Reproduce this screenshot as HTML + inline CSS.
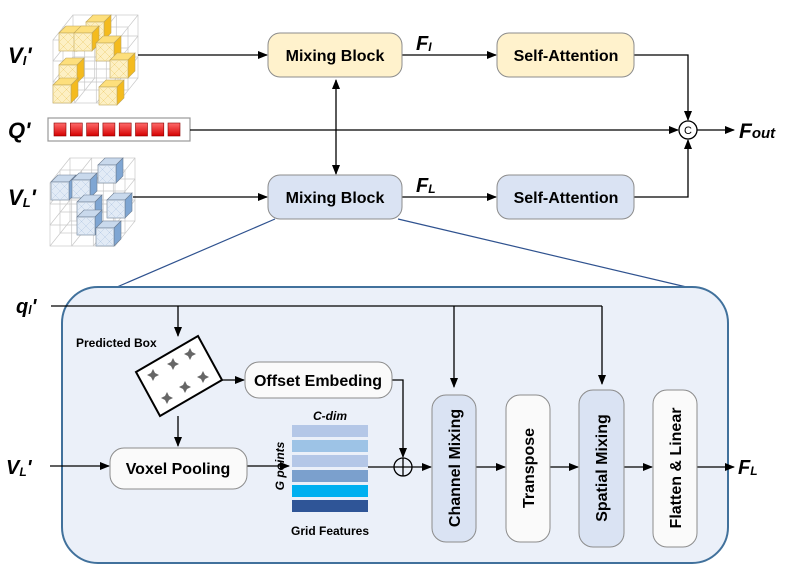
<!DOCTYPE html>
<html><head><meta charset="utf-8"><style>
html,body{margin:0;padding:0;background:#fff;}
svg{display:block;font-family:"Liberation Sans",sans-serif;}
</style></head><body>
<svg width="788" height="576" viewBox="0 0 788 576" xmlns="http://www.w3.org/2000/svg">
<defs>
<marker id="a" markerWidth="10" markerHeight="8" refX="9" refY="4" orient="auto" markerUnits="userSpaceOnUse"><path d="M0,0 L10,4 L0,8 z" fill="#000"/></marker>
<marker id="as" markerWidth="10" markerHeight="8" refX="1" refY="4" orient="auto" markerUnits="userSpaceOnUse"><path d="M10,0 L0,4 L10,8 z" fill="#000"/></marker>
<linearGradient id="rq" x1="0" y1="0" x2="0" y2="1"><stop offset="0" stop-color="#ff6b6b"/><stop offset="1" stop-color="#d40000"/></linearGradient>
<g id="yc"><path d="M0,7 l7,-7 h18 l-7,7 z" fill="#fddf7c" stroke="#bfa55a" stroke-width="0.6"/><path d="M18,7 l7,-7 v18 l-7,7 z" fill="#f4bb1e" stroke="#bfa55a" stroke-width="0.6"/><rect x="0" y="7" width="18" height="18" fill="#fdf0c4" stroke="#bfa55a" stroke-width="0.6"/><path d="M0,7 l18,18 M18,7 l-18,18 M9,7 l9,9 M0,16 l9,9 M9,7 l-9,9 M18,16 l-9,9" stroke="#f0d27a" stroke-width="0.5"/></g>
<g id="bc"><path d="M0,7 l7,-7 h18 l-7,7 z" fill="#c9d9ec" stroke="#6c7d92" stroke-width="0.6"/><path d="M18,7 l7,-7 v18 l-7,7 z" fill="#7fa6d3" stroke="#6c7d92" stroke-width="0.6"/><rect x="0" y="7" width="18" height="18" fill="#e2ebf6" stroke="#6c7d92" stroke-width="0.6"/><path d="M0,7 l18,18 M18,7 l-18,18 M9,7 l9,9 M0,16 l9,9 M9,7 l-9,9 M18,16 l-9,9" stroke="#b9cde6" stroke-width="0.5"/></g>
<g id="grid" stroke="#c8c8c8" stroke-width="0.7" fill="none">
<rect x="0" y="25" width="65" height="63"/><rect x="20" y="0" width="65" height="63"/>
<rect x="10" y="12" width="65" height="63"/>
<path d="M21.7,25 v63 M43.3,25 v63 M0,46 h65 M0,67 h65"/>
<path d="M41.7,0 v63 M63.3,0 v63 M20,21 h65 M20,42 h65"/>
<path d="M31.7,12 v63 M53.3,12 v63 M10,33 h65 M10,54 h65"/>
<path d="M0,25 l20,-25 M65,25 l20,-25 M65,88 l20,-25 M0,88 l20,-25 M21.7,25 l20,-25 M43.3,25 l20,-25 M65,46 l20,-25 M65,67 l20,-25 M0,46 l20,-25 M0,67 l20,-25 M21.7,88 l20,-25 M43.3,88 l20,-25"/>
</g>
</defs>

<g transform="translate(53,15)"><use href="#grid"/></g>
<use href="#yc" x="86" y="15"/>
<use href="#yc" x="59" y="26"/><use href="#yc" x="74" y="26"/>
<use href="#yc" x="96" y="36"/>
<use href="#yc" x="110" y="53"/>
<use href="#yc" x="59" y="58"/>
<use href="#yc" x="53" y="78"/>
<use href="#yc" x="99" y="80"/>
<g transform="translate(50,158)"><use href="#grid"/></g>
<use href="#bc" x="98" y="158"/>
<use href="#bc" x="51" y="175"/><use href="#bc" x="72" y="173"/>
<use href="#bc" x="77" y="195"/><use href="#bc" x="107" y="193"/>
<use href="#bc" x="77" y="210"/><use href="#bc" x="96" y="221"/>

<g font-weight="bold" font-style="italic" font-size="22">
<text x="8" y="63">V<tspan font-size="13" dy="2">I</tspan><tspan dy="-2">'</tspan></text>
<text x="8" y="138">Q'</text>
<text x="8" y="205">V<tspan font-size="13" dy="2">L</tspan><tspan dy="-2">'</tspan></text>
</g>

<rect x="48" y="118" width="142" height="23" fill="#fff" stroke="#999" stroke-width="1.2"/>
<g fill="url(#rq)" stroke="#8a0000" stroke-width="0.6">
<rect x="54" y="123" width="12" height="13"/><rect x="70.3" y="123" width="12" height="13"/><rect x="86.6" y="123" width="12" height="13"/><rect x="102.9" y="123" width="12" height="13"/><rect x="119.2" y="123" width="12" height="13"/><rect x="135.5" y="123" width="12" height="13"/><rect x="151.8" y="123" width="12" height="13"/><rect x="168" y="123" width="12" height="13"/>
</g>

<g stroke="#000" stroke-width="1.3" fill="none">
<path d="M138,55 H267" marker-end="url(#a)"/>
<path d="M133,197 H267" marker-end="url(#a)"/>
<path d="M402,55 H496" marker-end="url(#a)"/>
<path d="M402,197 H496" marker-end="url(#a)"/>
<path d="M336,80 V174" marker-end="url(#a)" marker-start="url(#as)"/>
<path d="M634,55 H688 V120" marker-end="url(#a)"/>
<path d="M634,197 H688 V140" marker-end="url(#a)"/>
<path d="M190,130 H678" marker-end="url(#a)"/>
<path d="M697,130 H734" marker-end="url(#a)"/>
</g>
<circle cx="688" cy="130" r="9" fill="#fff" stroke="#000" stroke-width="1.3"/>
<text x="688" y="134" font-size="11" text-anchor="middle">C</text>
<text x="739" y="138" font-size="21" font-weight="bold" font-style="italic">F<tspan font-size="15">out</tspan></text>
<text x="416" y="50" font-size="20" font-weight="bold" font-style="italic">F<tspan font-size="12" dy="1">I</tspan></text>
<text x="416" y="192" font-size="20" font-weight="bold" font-style="italic">F<tspan font-size="12" dy="1">L</tspan></text>

<path d="M275,219 L110,290 M398,219 L695,289" stroke="#2f528f" stroke-width="1.2"/>

<g stroke="#8c8c8c" stroke-width="1">
<rect x="268" y="33" width="134" height="44" rx="12" fill="#fff2cc"/>
<rect x="497" y="33" width="137" height="44" rx="12" fill="#fff2cc"/>
<rect x="268" y="175" width="134" height="44" rx="12" fill="#dae3f3"/>
<rect x="497" y="175" width="137" height="44" rx="12" fill="#dae3f3"/>
</g>
<g font-size="16" font-weight="bold" text-anchor="middle">
<text x="335" y="61">Mixing Block</text><text x="566" y="61">Self-Attention</text>
<text x="335" y="203">Mixing Block</text><text x="566" y="203">Self-Attention</text>
</g>

<rect x="62" y="287" width="666" height="276" rx="36" fill="#ebf0f9" stroke="#41719c" stroke-width="2"/>

<text x="16" y="313" font-size="20" font-weight="bold" font-style="italic">q<tspan font-size="12" dy="1">l</tspan><tspan dy="-1">'</tspan></text>
<text x="6" y="474" font-size="20" font-weight="bold" font-style="italic">V<tspan font-size="12" dy="2">L</tspan><tspan dy="-2">'</tspan></text>

<g stroke="#000" stroke-width="1.3" fill="none">
<path d="M51,306 H602"/>
<path d="M178,306 V336" marker-end="url(#a)"/>
<path d="M454,306 V387" marker-end="url(#a)"/>
<path d="M602,306 V384" marker-end="url(#a)"/>
<path d="M222,380 H244" marker-end="url(#a)"/>
<path d="M392,380 H403 V457" marker-end="url(#a)"/>
<path d="M178,416 V446" marker-end="url(#a)"/>
<path d="M50,466 H109" marker-end="url(#a)"/>
<path d="M247,466 H289" marker-end="url(#a)"/>
<path d="M368,467 H394"/>
<path d="M412,467 H431" marker-end="url(#a)"/>
<path d="M476,467 H505" marker-end="url(#a)"/>
<path d="M550,467 H578" marker-end="url(#a)"/>
<path d="M624,467 H652" marker-end="url(#a)"/>
<path d="M697,467 H734" marker-end="url(#a)"/>
</g>
<circle cx="403" cy="467" r="9" fill="none" stroke="#000" stroke-width="1.3"/>
<path d="M394,467 H412 M403,458 V476" stroke="#000" stroke-width="1.3"/>

<text x="76" y="347" font-size="12" font-weight="bold">Predicted Box</text>
<polygon points="136,372 198,336 222,380 160,416" fill="#fff" stroke="#000" stroke-width="2"/>
<g fill="#666">
<path d="M153,375 m0,-6 l2,4 l4,2 l-4,2 l-2,4 l-2,-4 l-4,-2 l4,-2 z"/>
<path d="M173,364 m0,-6 l2,4 l4,2 l-4,2 l-2,4 l-2,-4 l-4,-2 l4,-2 z"/>
<path d="M190,354 m0,-6 l2,4 l4,2 l-4,2 l-2,4 l-2,-4 l-4,-2 l4,-2 z"/>
<path d="M203,377 m0,-6 l2,4 l4,2 l-4,2 l-2,4 l-2,-4 l-4,-2 l4,-2 z"/>
<path d="M185,387 m0,-6 l2,4 l4,2 l-4,2 l-2,4 l-2,-4 l-4,-2 l4,-2 z"/>
<path d="M167,398 m0,-6 l2,4 l4,2 l-4,2 l-2,4 l-2,-4 l-4,-2 l4,-2 z"/>
</g>

<g stroke="#8c8c8c" stroke-width="1">
<rect x="245" y="362" width="147" height="36" rx="14" fill="#fafafa"/>
<rect x="110" y="448" width="137" height="41" rx="14" fill="#fafafa"/>
<rect x="432" y="395" width="44" height="147" rx="14" fill="#dae3f3"/>
<rect x="506" y="395" width="44" height="147" rx="14" fill="#fafafa"/>
<rect x="579" y="390" width="45" height="157" rx="14" fill="#dae3f3"/>
<rect x="653" y="390" width="44" height="157" rx="14" fill="#fafafa"/>
</g>
<g font-size="16" font-weight="bold" text-anchor="middle">
<text x="318" y="386">Offset Embeding</text>
<text x="178" y="474">Voxel Pooling</text>
<text transform="translate(460,468) rotate(-90)">Channel Mixing</text>
<text transform="translate(534,468) rotate(-90)">Transpose</text>
<text transform="translate(607,468) rotate(-90)">Spatial Mixing</text>
<text transform="translate(681,468) rotate(-90)">Flatten &amp; Linear</text>
</g>
<text x="738" y="474" font-size="20" font-weight="bold" font-style="italic">F<tspan font-size="12" dy="1">L</tspan></text>

<rect x="292" y="425" width="76" height="12" fill="#b4c7e7"/>
<rect x="292" y="440" width="76" height="12" fill="#9dc3e6"/>
<rect x="292" y="455" width="76" height="12" fill="#b4c7e7"/>
<rect x="292" y="470" width="76" height="12" fill="#7ba0cd"/>
<rect x="292" y="485" width="76" height="12" fill="#00b0f0"/>
<rect x="292" y="500" width="76" height="12" fill="#2f5597"/>
<text x="330" y="420" font-size="12" font-weight="bold" font-style="italic" text-anchor="middle">C-dim</text>
<text transform="translate(284,466) rotate(-90)" font-size="12" font-weight="bold" font-style="italic" text-anchor="middle">G points</text>
<text x="330" y="535" font-size="12" font-weight="bold" text-anchor="middle">Grid Features</text>
</svg>
</body></html>
